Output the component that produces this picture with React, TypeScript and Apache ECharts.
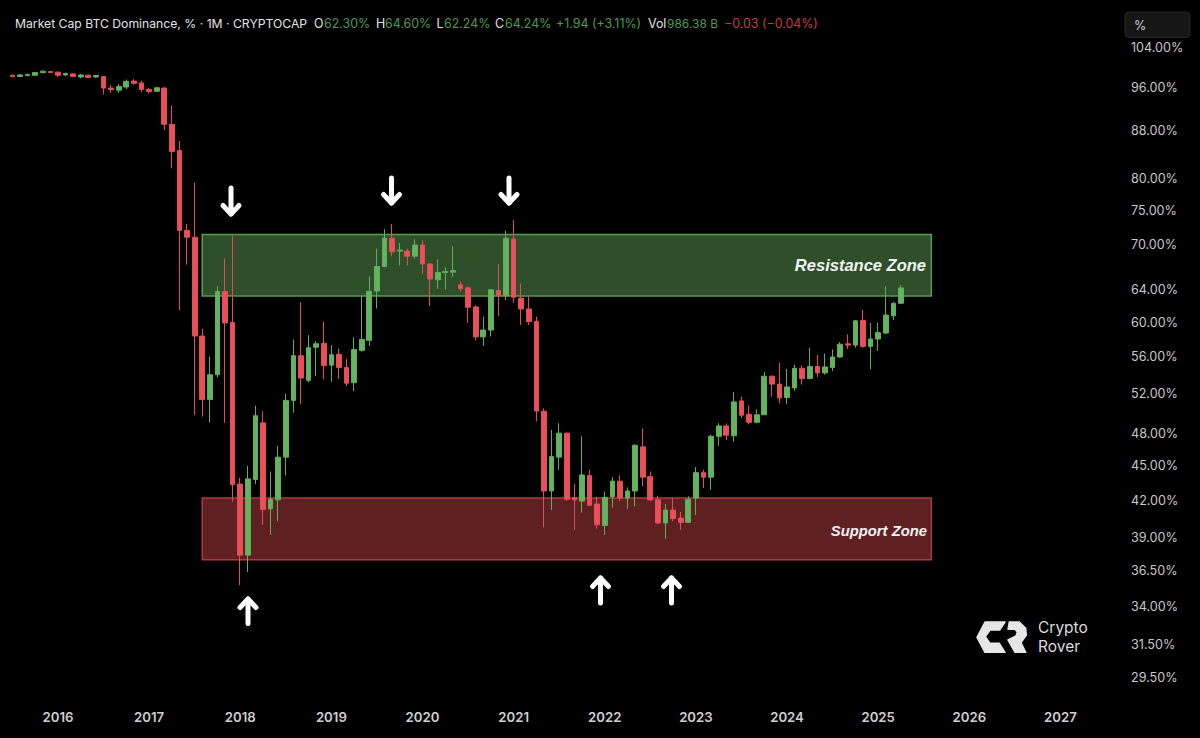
import React, { useEffect, useRef } from "react";
import * as echarts from "echarts";

// Months from 2015-06 to 2027-09 (one band per month on the category axis).
const firstYear = 2015;
const firstMonth = 6;
const monthCount = 148;
const months: string[] = [];
for (let i = 0; i < monthCount; i++) {
  const m = firstMonth - 1 + i;
  const y = firstYear + Math.floor(m / 12);
  months.push(`${y}-${String((m % 12) + 1).padStart(2, "0")}`);
}
const firstCandleMonth = "2015-07";

const opens = [
  98.3, 98.05, 98.25, 98.3, 98.82, 99.03,
  98.9, 98.35, 98.55, 97.95, 98.3, 97.95, 98.05, 95.8, 95.4, 96.0, 97.15, 96.8,
  95.55, 95.2, 95.8, 89.1, 84.57, 72.07, 71.1, 58.35, 51.4, 54.0, 63.8, 59.95,
  43.4, 37.65, 43.8, 49.05, 41.3, 42.05, 45.8, 51.3, 56.1, 53.4, 57.05, 57.5,
  55.05, 56.25, 54.8, 53.15, 56.7, 57.85, 63.85, 67.05, 70.95, 69.15, 69.15, 68.45,
  70.0, 67.4, 65.3, 66.25, 66.3, 64.65, 64.25, 61.85, 58.25, 59.05, 63.9, 63.25,
  70.85, 62.95, 61.6, 60.1, 50.2, 42.8, 45.8, 48.05, 42.25, 41.95, 44.15, 41.7,
  39.95, 42.3, 43.65, 42.2, 42.8, 46.75, 44.05, 42.05, 40.15, 41.2, 40.55, 40.2,
  42.2, 44.4, 44.0, 47.75, 48.75, 47.8, 51.25, 49.9, 49.1, 49.85, 53.85, 53.0,
  51.6, 52.6, 54.7, 53.6, 54.9, 54.2, 54.8, 55.95, 57.45, 57.3, 60.2, 57.15,
  58.0, 58.7, 60.75, 62.3,
];
const closes = [
  98.05, 98.35, 98.45, 98.82, 99.1, 98.82,
  98.3, 98.65, 98.05, 98.35, 97.85, 98.25, 95.8, 95.5, 96.1, 97.1, 96.7, 95.55,
  95.15, 95.85, 89.1, 84.4, 72.07, 71.1, 58.35, 51.4, 54.0, 63.8, 59.9, 43.34,
  37.65, 43.85, 49.75, 41.25, 42.1, 45.8, 51.3, 56.1, 53.65, 57.0, 57.45, 55.0,
  56.2, 54.8, 53.1, 56.8, 57.95, 63.8, 67.05, 70.95, 69.05, 69.3, 68.45, 70.0,
  67.4, 65.4, 66.25, 66.4, 66.5, 64.15, 61.8, 58.25, 59.05, 64.0, 63.25, 70.95,
  63.05, 61.6, 60.05, 50.23, 42.8, 45.85, 48.05, 42.1, 42.05, 44.2, 41.6, 40.0,
  42.25, 43.65, 42.2, 42.8, 46.9, 44.0, 42.05, 40.15, 41.2, 40.5, 40.2, 42.1,
  44.4, 44.0, 47.75, 48.75, 47.85, 51.15, 49.8, 49.1, 49.85, 53.85, 53.0, 51.55,
  52.7, 54.7, 53.6, 54.9, 54.2, 54.85, 55.95, 57.4, 57.3, 60.15, 57.15, 58.0,
  58.75, 60.85, 62.3, 64.24,
];
const lows = [
  97.9, 97.9, 98.1, 98.2, 98.7, 98.75,
  97.9, 98.15, 97.95, 97.7, 97.75, 97.8, 94.6, 94.9, 94.9, 95.6, 96.45, 95.0,
  94.75, 95.05, 88.07, 81.6, 61.45, 67.3, 49.8, 49.67, 49.1, 53.7, 49.05, 41.9,
  35.45, 36.4, 43.4, 40.0, 39.2, 40.3, 44.15, 50.05, 50.9, 53.2, 53.85, 53.5,
  53.25, 53.55, 52.8, 52.25, 56.55, 57.2, 61.65, 66.95, 68.45, 67.2, 67.2, 68.15,
  66.1, 61.95, 64.15, 64.0, 65.65, 63.8, 59.9, 57.85, 57.2, 58.3, 60.7, 62.7,
  62.35, 59.65, 59.65, 49.2, 39.8, 41.2, 44.65, 41.95, 39.6, 41.0, 41.55, 39.7,
  39.2, 41.4, 41.95, 41.3, 41.5, 43.2, 41.95, 40.05, 38.9, 40.3, 39.6, 40.15,
  40.8, 43.05, 42.9, 46.85, 47.4, 47.25, 49.55, 48.9, 49.0, 49.8, 51.7, 51.0,
  50.9, 52.3, 52.95, 53.5, 53.75, 54.0, 54.4, 55.9, 56.85, 57.0, 57.0, 54.6,
  56.65, 58.55, 60.25, 62.24,
];
const highs = [
  98.4, 98.5, 98.6, 98.95, 99.2, 99.1,
  99.0, 98.8, 98.7, 98.55, 98.4, 98.35, 98.1, 96.4, 96.6, 97.45, 97.5, 97.25,
  95.85, 96.05, 96.0, 92.5, 86.2, 73.0, 79.3, 59.2, 56.0, 64.45, 68.15, 71.3,
  43.95, 45.0, 50.75, 50.2, 44.5, 46.85, 52.0, 57.95, 62.45, 58.45, 57.75, 60.05,
  57.3, 56.9, 55.75, 58.2, 63.25, 65.75, 69.5, 72.25, 73.0, 70.3, 69.5, 70.8,
  70.7, 67.45, 68.0, 66.95, 69.85, 65.1, 64.45, 62.05, 60.65, 64.1, 67.4, 72.05,
  73.55, 64.8, 63.25, 60.65, 50.5, 48.35, 49.0, 48.1, 43.4, 47.75, 44.65, 42.3,
  42.75, 44.0, 44.15, 43.1, 47.0, 48.5, 44.5, 42.4, 41.7, 42.2, 41.05, 42.35,
  44.9, 44.65, 47.9, 49.0, 49.0, 52.15, 51.7, 50.8, 50.4, 54.3, 53.9, 55.3,
  54.65, 55.1, 55.0, 57.0, 56.2, 56.35, 56.8, 57.65, 58.55, 60.25, 61.5, 59.9,
  59.9, 64.45, 62.45, 64.6,
];

const priceTicks = [104, 96, 88, 80, 75, 70, 64, 60, 56, 52, 48, 45, 42, 39, 36.5, 34, 31.5, 29.5];

const resistanceZone = { from: "2017-08", to: "2025-08", top: 71.5, bottom: 63.2 };
const supportZone = { from: "2017-08", to: "2025-08", top: 42.2, bottom: 37.3 };

const headerParts: [string, number, string, number][] = [
  ["Market Cap BTC Dominance, % · 1M · CRYPTOCAP", 15, "#e4e4e4", 12.2],
  ["O", 314, "#e4e4e4", 12.4],
  ["62.30%", 324, "#4f9a55", 12.4],
  ["H", 376, "#e4e4e4", 12.4],
  ["64.60%", 385, "#4f9a55", 12.4],
  ["L", 436.5, "#e4e4e4", 12.4],
  ["62.24%", 444, "#4f9a55", 12.4],
  ["C", 495, "#e4e4e4", 12.4],
  ["64.24%", 505, "#4f9a55", 12.4],
  ["+1.94 (+3.11%)", 556, "#4f9a55", 12.4],
  ["Vol", 648, "#e4e4e4", 12.4],
  ["986.38 B", 667, "#4f9a55", 12],
  ["−0.03 (−0.04%)", 724, "#c73c42", 12.4],
];

const FONT = "Inter, 'Liberation Sans', sans-serif";

function arrow(x: number, yTail: number, yTip: number) {
  const dir = yTip > yTail ? -1 : 1;
  return {
    type: "group",
    children: [
      {
        type: "polyline",
        shape: { points: [[x, yTail], [x, yTip]] },
        style: { stroke: "#ffffff", lineWidth: 5, lineCap: "round", fill: null },
      },
      {
        type: "polyline",
        shape: { points: [[x - 8, yTip + dir * 8.5], [x, yTip], [x + 8, yTip + dir * 8.5]] },
        style: { stroke: "#ffffff", lineWidth: 5, lineCap: "round", lineJoin: "round", fill: null },
      },
    ],
  };
}

const lp = (pts: number[][]) => pts.map(([x, y]) => [960 + x / 3, 600 + y / 3]);

export default function App() {
  const ref = useRef<HTMLDivElement>(null);
  useEffect(() => {
    document.body.style.margin = "0";
    document.body.style.background = "#000";
    const chart = echarts.init(ref.current!, undefined, { renderer: "svg" });
    const offset = months.indexOf(firstCandleMonth);
    const data: any[] = months.map((_, i) => {
      const k = i - offset;
      if (k < 0 || k >= opens.length) return ["-", "-", "-", "-"];
      return [opens[k], closes[k], lows[k], highs[k]];
    });
    const graphic: any[] = [
      ...headerParts.map(([text, x, fill, size]) => ({
        type: "text",
        x,
        y: 23,
        z: 20,
        style: { text, fill, font: `400 ${size}px ${FONT}`, textVerticalAlign: "middle" },
      })),
      {
        type: "rect",
        shape: { x: 1125, y: 12, width: 65, height: 25.5, r: 4 },
        style: { fill: "#161616", stroke: "#272727", lineWidth: 1 },
        z: 20,
      },
      {
        type: "text",
        x: 1134,
        y: 25,
        z: 21,
        style: { text: "%", fill: "#d0d0d0", font: `400 12.5px ${FONT}`, textVerticalAlign: "middle" },
      },
      {
        type: "text",
        x: 926,
        y: 265,
        z: 20,
        style: {
          text: "Resistance Zone",
          fill: "#f2f2f2",
          font: "italic 700 16.5px 'Liberation Sans', sans-serif",
          textAlign: "right",
          textVerticalAlign: "middle",
        },
      },
      {
        type: "text",
        x: 927,
        y: 531,
        z: 20,
        style: {
          text: "Support Zone",
          fill: "#f2f2f2",
          font: "italic 700 14.8px 'Liberation Sans', sans-serif",
          textAlign: "right",
          textVerticalAlign: "middle",
        },
      },
      { ...arrow(231, 188, 214), z: 20 },
      { ...arrow(391.5, 178, 203), z: 20 },
      { ...arrow(509, 178, 203), z: 20 },
      { ...arrow(248, 623.5, 599), z: 20 },
      { ...arrow(600.5, 603, 578), z: 20 },
      { ...arrow(671.5, 603, 578), z: 20 },
      {
        type: "polygon",
        z: 20,
        shape: {
          points: lp([
            [75, 66], [135, 66], [119, 90], [90, 90], [76, 110], [90, 130], [118, 130], [135, 157], [75, 157], [51, 112],
          ]),
        },
        style: { fill: "#e6e6e6", stroke: "#e6e6e6", lineWidth: 1.5, lineJoin: "round" },
      },
      {
        type: "polygon",
        z: 20,
        shape: {
          points: lp([
            [148, 66], [178, 66], [197, 85], [199, 105], [183, 128], [197, 157], [165, 157], [144, 120], [168, 108], [172, 96], [165, 88], [144, 88],
          ]),
        },
        style: { fill: "#e6e6e6", stroke: "#e6e6e6", lineWidth: 1.5, lineJoin: "round" },
      },
      {
        type: "text",
        x: 1038,
        y: 627,
        z: 20,
        style: { text: "Crypto", fill: "#dcdcdc", font: `400 15.5px ${FONT}`, textVerticalAlign: "middle" },
      },
      {
        type: "text",
        x: 1038,
        y: 646,
        z: 20,
        style: { text: "Rover", fill: "#dcdcdc", font: `400 15.5px ${FONT}`, textVerticalAlign: "middle" },
      },
    ];
    chart.setOption({
      animation: false,
      backgroundColor: "#000000",
      grid: { left: 1, top: 40, width: 1124, height: 660 },
      xAxis: {
        type: "category",
        data: months,
        boundaryGap: true,
        axisLine: { show: false },
        axisTick: { show: false },
        splitLine: { show: false },
        axisLabel: {
          interval: (_: number, v: string) => v.endsWith("-01"),
          formatter: (v: string) => v.slice(0, 4),
          color: "#cfcfcf",
          fontFamily: FONT,
          fontSize: 13.2,
          fontWeight: 600,
          margin: 10,
        },
      },
      yAxis: {
        type: "log",
        position: "right",
        min: 28.18,
        max: 105.47,
        axisLine: { show: false },
        axisTick: { show: false },
        splitLine: { show: false },
        axisLabel: {
          customValues: priceTicks,
          formatter: (v: number) => `${Number(v).toFixed(2)}%`,
          color: "#c8c8c8",
          fontFamily: FONT,
          fontSize: 12.6,
          margin: 6,
          showMinLabel: true,
          showMaxLabel: true,
        },
      },
      series: [
        {
          type: "candlestick",
          data,
          barWidth: 5.2,
          clip: false,
          itemStyle: {
            color: "#64b45f",
            color0: "#e9505a",
            borderColor: "#60ae5b",
            borderColor0: "#e24d57",
            borderWidth: 1,
          },
          markArea: {
            silent: true,
            data: [
              [
                {
                  xAxis: resistanceZone.from,
                  yAxis: resistanceZone.top,
                  itemStyle: { color: "#2f4f2b", borderColor: "#5b9c52", borderWidth: 1.5 },
                },
                { xAxis: resistanceZone.to, yAxis: resistanceZone.bottom },
              ],
              [
                {
                  xAxis: supportZone.from,
                  yAxis: supportZone.top,
                  itemStyle: { color: "#5f2021", borderColor: "#ab3c3d", borderWidth: 1.5 },
                },
                { xAxis: supportZone.to, yAxis: supportZone.bottom },
              ],
            ],
          },
        },
      ],
      graphic,
    });
    return () => chart.dispose();
  }, []);
  return <div ref={ref} style={{ position: "absolute", left: 0, top: 0, width: 1200, height: 738 }} />;
}
